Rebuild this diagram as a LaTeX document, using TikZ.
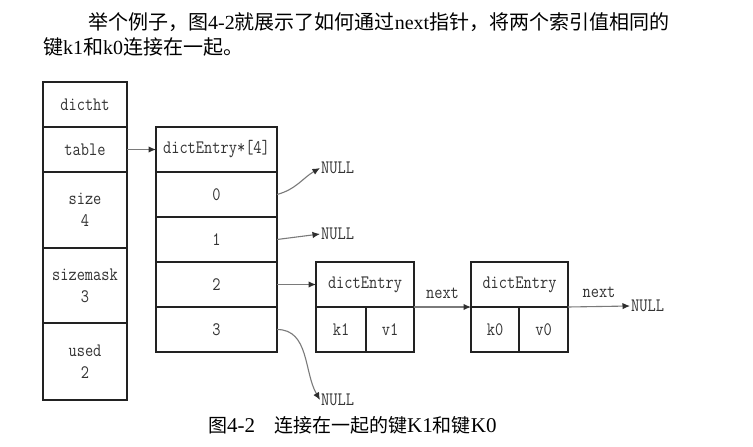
\documentclass[tikz,border=0pt]{standalone}
\usepackage{fontspec}
\setmainfont{Liberation Serif}
\setmonofont[FakeStretch=0.84]{Latin Modern Mono}
\newfontfamily\cjk{Noto Sans CJK SC}
\usetikzlibrary{arrows.meta}
\definecolor{boxline}{HTML}{222222}
\definecolor{txtgray}{HTML}{333333}
\definecolor{arrowgray}{HTML}{7A7A7A}
\definecolor{tipgray}{HTML}{2E2E2E}
\tikzset{
  cell/.style={draw=boxline, line width=2.4pt, inner sep=0pt, outer sep=0pt,
    font=\fontsize{19}{22}\selectfont\ttfamily, text=txtgray, align=center},
  conn/.style={draw=arrowgray, line width=1.1pt,
    -{Latex[length=7.5pt,width=6.5pt,color=tipgray]}},
  nulltxt/.style={font=\fontsize{19}{20}\selectfont\ttfamily, text=txtgray, inner sep=1pt, anchor=west},
  lbl/.style={font=\fontsize{19}{20}\selectfont\ttfamily, text=txtgray, inner sep=1pt},
  para/.style={font=\fontsize{20}{24}\selectfont, inner sep=0pt, anchor=west}
}
\begin{document}
\begin{tikzpicture}[x=1pt,y=-1pt]
\useasboundingbox[fill=white] (0,0) rectangle (753,447);

% paragraph
\node[para] (p1) at (88,22) {{\cjk 举个例子，图}4-2{\cjk 就展示了如何通过}next{\cjk 指针，将两个索引值相同的}};
\node[para] (p2) at (43,47) {{\cjk 键}k1{\cjk 和}k0{\cjk 连接在一起。}};

% dictht column
\node[cell, minimum width=84pt, minimum height=45pt] (dictht) at (85,104.5) {dictht};
\node[cell, minimum width=84pt, minimum height=45pt] (table) at (85,149.5) {table};
\node[cell, minimum width=84pt, minimum height=76pt] (size) at (85,210) {size\\4};
\node[cell, minimum width=84pt, minimum height=75pt] (sizemask) at (85,285.5) {sizemask\\3};
\node[cell, minimum width=84pt, minimum height=77pt] (used) at (85,361.5) {used\\2};

% dictEntry*[4] column
\node[cell, minimum width=121pt, minimum height=45pt] (hdr) at (216.5,149.5) {dictEntry*[4]};
\node[cell, minimum width=121pt, minimum height=45pt] (r0) at (216.5,194.5) {0};
\node[cell, minimum width=121pt, minimum height=45pt] (r1) at (216.5,239.5) {1};
\node[cell, minimum width=121pt, minimum height=45pt] (r2) at (216.5,284.5) {2};
\node[cell, minimum width=121pt, minimum height=45pt] (r3) at (216.5,329.5) {3};

% first dictEntry
\node[cell, minimum width=98pt, minimum height=45pt] (de1) at (365,284.5) {dictEntry};
\node[cell, minimum width=50pt, minimum height=45pt] (k1) at (341,329.5) {k1};
\node[cell, minimum width=48pt, minimum height=45pt] (v1) at (390,329.5) {v1};

% second dictEntry
\node[cell, minimum width=97pt, minimum height=45pt] (de2) at (519.5,284.5) {dictEntry};
\node[cell, minimum width=48pt, minimum height=45pt] (k0) at (495,329.5) {k0};
\node[cell, minimum width=49pt, minimum height=45pt] (v0) at (543.5,329.5) {v0};

% NULLs
\node[nulltxt] (null0) at (320,168) {NULL};
\node[nulltxt] (null1) at (320,234) {NULL};
\node[nulltxt] (null3) at (320,400) {NULL};
\node[nulltxt] (null4) at (630,306) {NULL};

% connectors
\draw[conn] (table.east) -- (hdr.west);
\draw[conn] (r0.east) to[out=15,in=210] (null0.west);
\draw[conn] (r1.east) -- (null1.west);
\draw[conn] (r2.east) -- (de1.west);
\draw[conn] (r3.east) to[out=0,in=120] (null3.west);
\draw[conn] (de1.south east) -- node[lbl, above=7pt] (n1) {next} (de2.south west);
\draw[conn] (de2.south east) -- node[lbl, above=7pt] (n2) {next} (null4.west);

% caption
\node[font=\fontsize{21}{24}\selectfont, inner sep=0pt, anchor=west] (cap) at (208,425)
  {{\fontsize{19}{24}\selectfont\cjk 图}4-2\hspace{19pt}{\fontsize{19}{24}\selectfont\cjk 连接在一起的键}K1{\fontsize{19}{24}\selectfont\cjk 和键}K0};
\end{tikzpicture}
\end{document}
